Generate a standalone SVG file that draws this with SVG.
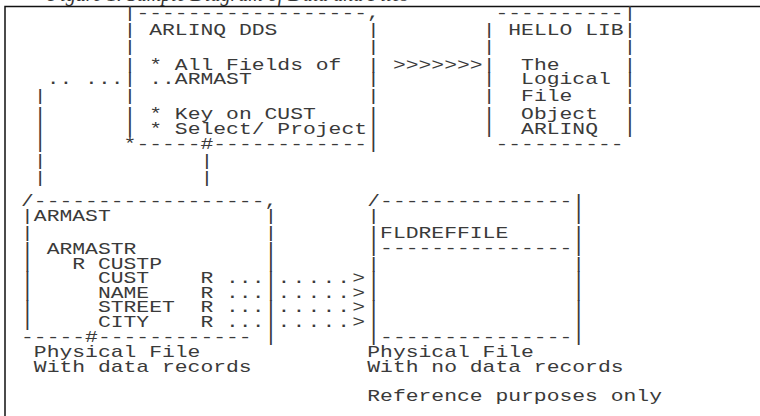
<svg xmlns="http://www.w3.org/2000/svg" width="760" height="416" viewBox="0 0 760 416">
<style>
.t{font-family:"Liberation Mono","DejaVu Sans Mono",monospace;font-size:17.4px;fill:#3a3a3a;white-space:pre}
.cap{font-family:"Liberation Serif",serif;font-style:italic;font-size:20px;fill:#333}
.fr{stroke:#111;stroke-width:1.5;fill:none}
</style>
<rect width="760" height="416" fill="#fff"/>
<g id="frame"><path class="fr" d="M5,416 V6.5 H760"/></g>
<text class="cap" x="48" y="0.5">Figure 1. Sample Diagram of Data and Files</text>
<g transform="matrix(1.2283 0 0 1 8.2 0)">
<g id="arlinq-dds">
<text class="t" x="93.96" y="18" xml:space="preserve">|------------------,</text>
<text class="t" x="93.96" y="35" xml:space="preserve">| ARLINQ DDS       |</text>
<text class="t" x="93.96" y="52" xml:space="preserve">|                  |</text>
<text class="t" x="93.96" y="70" xml:space="preserve">| * All Fields of  |</text>
<text class="t" x="93.96" y="84" xml:space="preserve">| ..ARMAST         |</text>
<text class="t" x="93.96" y="101" xml:space="preserve">|                  |</text>
<text class="t" x="93.96" y="119" xml:space="preserve">| * Key on CUST    |</text>
<text class="t" x="93.96" y="134" xml:space="preserve">| * Select/ Project|</text>
<text class="t" x="93.96" y="149" xml:space="preserve">*-----#------------|</text>
</g>
<g id="hello-lib">
<text class="t" x="386.28" y="18" xml:space="preserve"> ----------|</text>
<text class="t" x="386.28" y="35" xml:space="preserve">| HELLO LIB|</text>
<text class="t" x="386.28" y="52" xml:space="preserve">|          |</text>
<text class="t" x="386.28" y="70" xml:space="preserve">|  The     |</text>
<text class="t" x="386.28" y="84" xml:space="preserve">|  Logical |</text>
<text class="t" x="386.28" y="101" xml:space="preserve">|  File    |</text>
<text class="t" x="386.28" y="119" xml:space="preserve">|  Object  |</text>
<text class="t" x="386.28" y="134" xml:space="preserve">|  ARLINQ  |</text>
<text class="t" x="386.28" y="149" xml:space="preserve"> ----------</text>
</g>
<g id="armast">
<text class="t" x="10.44" y="206" xml:space="preserve">/------------------,</text>
<text class="t" x="10.44" y="221" xml:space="preserve">|ARMAST            |</text>
<text class="t" x="10.44" y="238" xml:space="preserve">|                  |</text>
<text class="t" x="10.44" y="254" xml:space="preserve">| ARMASTR          |</text>
<text class="t" x="10.44" y="269" xml:space="preserve">|   R CUSTP        |</text>
<text class="t" x="10.44" y="283.5" xml:space="preserve">|     CUST    R ...|</text>
<text class="t" x="10.44" y="298" xml:space="preserve">|     NAME    R ...|</text>
<text class="t" x="10.44" y="312.5" xml:space="preserve">|     STREET  R ...|</text>
<text class="t" x="10.44" y="327" xml:space="preserve">|     CITY    R ...|</text>
<text class="t" x="10.44" y="342" xml:space="preserve">-----#------------ |</text>
<text class="t" x="20.88" y="357" xml:space="preserve">Physical File</text>
<text class="t" x="20.88" y="372" xml:space="preserve">With data records</text>
</g>
<g id="fldreffile">
<text class="t" x="292.32" y="206" xml:space="preserve">/---------------|</text>
<text class="t" x="292.32" y="221" xml:space="preserve">|               |</text>
<text class="t" x="292.32" y="238" xml:space="preserve">|FLDREFFILE     |</text>
<text class="t" x="292.32" y="253" xml:space="preserve">|---------------|</text>
<text class="t" x="292.32" y="269" xml:space="preserve">|               |</text>
<text class="t" x="292.32" y="283.5" xml:space="preserve">|               |</text>
<text class="t" x="292.32" y="298" xml:space="preserve">|               |</text>
<text class="t" x="292.32" y="312.5" xml:space="preserve">|               |</text>
<text class="t" x="292.32" y="327" xml:space="preserve">|               |</text>
<text class="t" x="292.32" y="342" xml:space="preserve">|---------------|</text>
<text class="t" x="292.32" y="357" xml:space="preserve">Physical File</text>
<text class="t" x="292.32" y="372" xml:space="preserve">With no data records</text>
<text class="t" x="292.32" y="401" xml:space="preserve">Reference purposes only</text>
</g>
<g id="connectors">
<text class="t" x="31.32" y="84" xml:space="preserve">.. ...</text>
<text class="t" x="20.88" y="101">|</text>
<text class="t" x="20.88" y="119">|</text>
<text class="t" x="20.88" y="134">|</text>
<text class="t" x="20.88" y="149">|</text>
<text class="t" x="20.88" y="166">|</text>
<text class="t" x="20.88" y="183">|</text>
<text class="t" x="156.6" y="166">|</text>
<text class="t" x="156.6" y="183">|</text>
<text class="t" x="313.2" y="70">&gt;&gt;&gt;&gt;&gt;&gt;&gt;</text>
<text class="t" x="219.2 231.4 243.6 255.8 268 280.2" y="283.5">.....&gt;</text>
<text class="t" x="219.2 231.4 243.6 255.8 268 280.2" y="298">.....&gt;</text>
<text class="t" x="219.2 231.4 243.6 255.8 268 280.2" y="312.5">.....&gt;</text>
<text class="t" x="219.2 231.4 243.6 255.8 268 280.2" y="327">.....&gt;</text>
</g>
</g>
</svg>
